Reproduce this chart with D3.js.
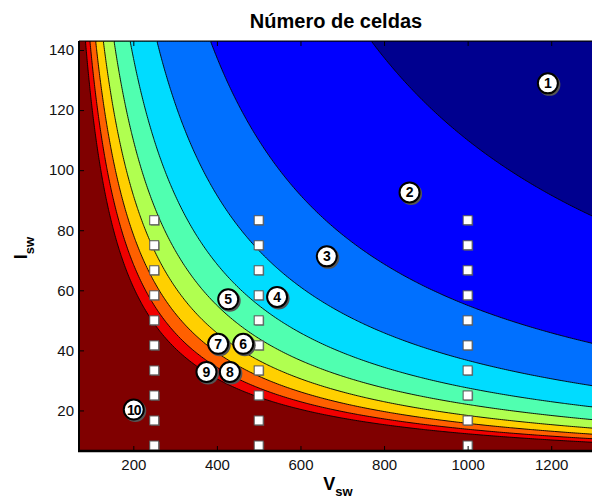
<!DOCTYPE html>
<html>
<head>
<meta charset="utf-8">
<script src="https://cdn.jsdelivr.net/npm/d3@7"></script>
<style>
  body { margin: 0; background: #fff; }
  text { font-family: Arial, "Liberation Sans", Helvetica, sans-serif; }
</style>
</head>
<body>
<div class="canvas"></div>
<script>
// Data

// cells = power / (V * I), boundaries where the cell count changes
const totalPower = 110000;
const cellLevels = [1, 2, 3, 4, 5, 6, 7, 8, 9];
// colour of region k (k = 1 .. 10)
const regionColors = ["#00008F", "#0000FF", "#0070FF", "#00DCFF", "#50FFB0",
                      "#B0FF50", "#FFD000", "#FF6000", "#F00000", "#800000"];

const vDomain = [70, 1300];
const iDomain = [6.5, 143];
const xTicks = [200, 400, 600, 800, 1000, 1200];
const yTicks = [20, 40, 60, 80, 100, 120, 140];

// white square markers
const markerV = [250, 500, 1000];
const markerI = [8.33, 16.67, 25, 33.33, 41.67, 50, 58.33, 66.67, 75, 83.33];

// numbered region labels
const labelNums = [1, 2, 3, 4, 5, 6, 7, 8, 9, 10];
const labelV = [1192, 861, 663, 544, 427, 463, 403, 431, 375, 201];
const labelI = [128.9, 92.6, 71.3, 57.8, 57.0, 42.2, 42.2, 32.8, 32.8, 20.3];

// Dimensions

const W = 592, H = 501;
const plot = { left: 79, right: 593, top: 41, bottom: 451 };

const x = d3.scaleLinear().domain(vDomain).range([plot.left, plot.right]);
const y = d3.scaleLinear().domain(iDomain).range([plot.bottom, plot.top]);

const svg = d3.select(".canvas")
    .append("svg")
    .attr("width", W)
    .attr("height", H);

svg.append("clipPath").attr("id", "clip")
    .append("rect")
    .attr("x", plot.left).attr("y", plot.top)
    .attr("width", plot.right - plot.left)
    .attr("height", plot.bottom - plot.top);

const area = svg.append("g").attr("clip-path", "url(#clip)");

// background = region 10
area.append("rect")
    .attr("x", plot.left).attr("y", plot.top)
    .attr("width", plot.right - plot.left)
    .attr("height", plot.bottom - plot.top)
    .attr("fill", regionColors[9]);

// Grid of V*I for the contours

const nx = 250, ny = 220;
const dV = (vDomain[1] - vDomain[0]) / nx;
const dI = (iDomain[1] - iDomain[0]) / ny;
const grid = new Array(nx * ny);
for (let j = 0; j < ny; j++) {
    const I = iDomain[0] + (j + 0.5) * dI;
    for (let i = 0; i < nx; i++) {
        const V = vDomain[0] + (i + 0.5) * dV;
        grid[j * nx + i] = V * I;
    }
}

const thresholds = cellLevels.map(k => totalPower / k).reverse();
const contours = d3.contours().size([nx, ny]).thresholds(thresholds)(grid);

const proj = d3.geoTransform({
    point: function(px, py) {
        this.stream.point(x(vDomain[0] + px * dV), y(iDomain[0] + py * dI));
    }
});
const path = d3.geoPath(proj);

area.selectAll("path.band")
    .data(contours)
    .join("path")
    .attr("class", "band")
    .attr("d", path)
    .attr("fill", d => regionColors[Math.round(totalPower / d.value) - 1])
    .attr("stroke", "#000")
    .attr("stroke-width", 0.9);

// Square markers

const markers = [];
markerV.forEach(v => markerI.forEach(i => markers.push({ v, i })));

const sq = 9;
area.selectAll("rect.shadow")
    .data(markers)
    .join("rect")
    .attr("class", "shadow")
    .attr("x", d => x(d.v) - sq / 2 + 1)
    .attr("y", d => y(d.i) - sq / 2 + 1)
    .attr("width", sq).attr("height", sq)
    .attr("fill", "#666")
    .attr("opacity", 0.7);

area.selectAll("rect.marker")
    .data(markers)
    .join("rect")
    .attr("class", "marker")
    .attr("x", d => x(d.v) - sq / 2)
    .attr("y", d => y(d.i) - sq / 2)
    .attr("width", sq).attr("height", sq)
    .attr("fill", "#fff")
    .attr("stroke", "#555")
    .attr("stroke-width", 1);

// Numbered circles

const labels = labelNums.map((n, k) => ({ n, v: labelV[k], i: labelI[k] }));

area.selectAll("circle.lshadow")
    .data(labels)
    .join("circle")
    .attr("class", "lshadow")
    .attr("cx", d => x(d.v) + 1.5)
    .attr("cy", d => y(d.i) + 1.5)
    .attr("r", 11)
    .attr("fill", "#555");

area.selectAll("circle.lab")
    .data(labels)
    .join("circle")
    .attr("class", "lab")
    .attr("cx", d => x(d.v))
    .attr("cy", d => y(d.i))
    .attr("r", 10)
    .attr("fill", "#fff")
    .attr("stroke", "#000")
    .attr("stroke-width", 2);

area.selectAll("text.lab")
    .data(labels)
    .join("text")
    .attr("class", "lab")
    .attr("x", d => x(d.v))
    .attr("y", d => y(d.i))
    .attr("dy", "0.36em")
    .attr("text-anchor", "middle")
    .style("font-size", "14px")
    .style("font-weight", "bold")
    .style("letter-spacing", d => d.n > 9 ? "-1px" : "0px")
    .text(d => d.n);

// Axes

const xAxis = svg.append("g")
    .attr("transform", `translate(0,${plot.bottom})`)
    .call(d3.axisBottom(x).tickValues(xTicks).tickFormat(d3.format("d"))
        .tickSizeInner(-5).tickSizeOuter(0).tickPadding(8))
    .call(g => g.select(".domain").remove());
xAxis.selectAll(".tick text").style("font-size", "15px").attr("fill", "#111").attr("font-family", null);

svg.append("g")
    .attr("transform", `translate(0,${plot.top})`)
    .call(d3.axisTop(x).tickValues(xTicks).tickSizeInner(-5).tickSizeOuter(0).tickFormat(""))
    .call(g => g.select(".domain").remove());

const yAxis = svg.append("g")
    .attr("transform", `translate(${plot.left},0)`)
    .call(d3.axisLeft(y).tickValues(yTicks).tickSizeInner(-5).tickSizeOuter(0).tickPadding(5))
    .call(g => g.select(".domain").remove());
yAxis.selectAll(".tick text").style("font-size", "15px").attr("fill", "#111").attr("font-family", null);

// axis lines
svg.append("line")
    .attr("x1", plot.left).attr("x2", plot.right)
    .attr("y1", plot.top).attr("y2", plot.top)
    .attr("stroke", "#000").attr("stroke-width", 1);
svg.append("line")
    .attr("x1", plot.left - 1).attr("x2", plot.right)
    .attr("y1", plot.bottom).attr("y2", plot.bottom)
    .attr("stroke", "#000").attr("stroke-width", 2.5);
svg.append("line")
    .attr("x1", plot.left).attr("x2", plot.left)
    .attr("y1", plot.top).attr("y2", plot.bottom)
    .attr("stroke", "#000").attr("stroke-width", 2);

// Title and labels

svg.append("text")
    .attr("x", (plot.left + plot.right) / 2)
    .attr("y", 28)
    .attr("text-anchor", "middle")
    .style("font-size", "20px")
    .style("font-weight", "bold")
    .text("Número de celdas");

const xl = svg.append("text")
    .attr("x", 338)
    .attr("y", 490)
    .attr("text-anchor", "middle")
    .style("font-weight", "bold");
xl.append("tspan").style("font-size", "18px").text("V");
xl.append("tspan").style("font-size", "13px").attr("dy", 6).text("sw");

const yl = svg.append("text")
    .attr("transform", "translate(27,248) rotate(-90)")
    .attr("text-anchor", "middle")
    .style("font-weight", "bold");
yl.append("tspan").style("font-size", "18px").text("I");
yl.append("tspan").style("font-size", "13px").attr("dy", 7).text("sw");
</script>
</body>
</html>
